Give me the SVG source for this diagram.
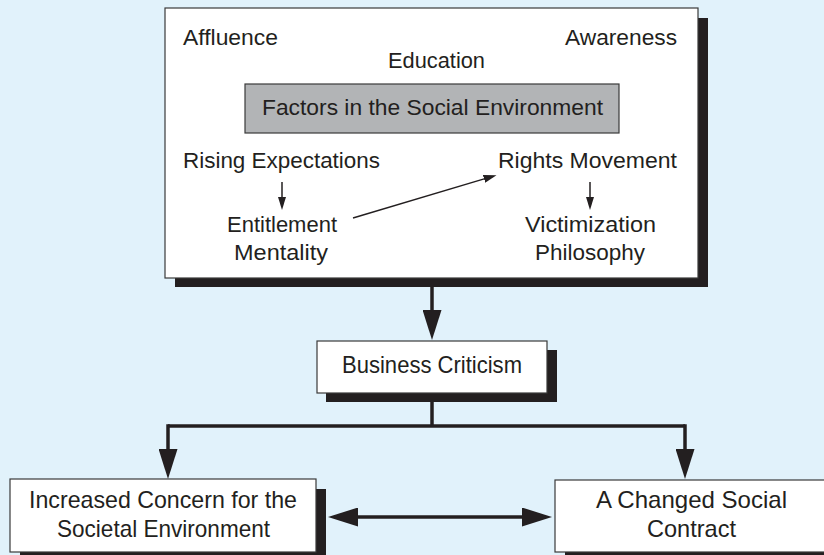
<svg xmlns="http://www.w3.org/2000/svg" width="824" height="555" viewBox="0 0 824 555">
<style>
.t{font-family:"Liberation Sans",Arial,sans-serif;font-size:22px;fill:#231f20;}
.c{font-family:"Liberation Sans Narrow","Liberation Sans",Arial,sans-serif;font-size:24px;fill:#231f20;}
.box{fill:#ffffff;stroke:#3a3a3a;stroke-width:1.2;}
.shadow{fill:#231f20;}
.gray{fill:#b2b4b6;stroke:#3a3a3a;stroke-width:1.2;}
.main{fill:none;stroke:#231f20;stroke-width:3.5;}
.thin{fill:none;stroke:#231f20;stroke-width:1.5;}
</style>
<defs>
<marker id="big" viewBox="0 0 30 19" refX="1" refY="9.5" markerWidth="30" markerHeight="19" markerUnits="userSpaceOnUse" orient="auto-start-reverse">
<path d="M0,0 L30,9.5 L0,19 Z" fill="#231f20"/>
</marker>
<marker id="small" viewBox="0 0 13 8" refX="1" refY="4" markerWidth="13" markerHeight="8" markerUnits="userSpaceOnUse" orient="auto">
<path d="M0,0 L13,4 L0,8 Z" fill="#231f20"/>
</marker>
</defs>
<rect x="0" y="0" width="824" height="555" fill="#e1f2fb"/>

<g id="connectors">
<line class="main" x1="432" y1="287" x2="432" y2="311" marker-end="url(#big)"/>
<line class="main" x1="432" y1="402" x2="432" y2="426"/>
<polyline class="main" points="168,426 685,426"/>
<line class="main" x1="168" y1="424.25" x2="168" y2="450" marker-end="url(#big)"/>
<line class="main" x1="685" y1="424.25" x2="685" y2="450" marker-end="url(#big)"/>
<line class="main" x1="357" y1="517" x2="523" y2="517" marker-start="url(#big)" marker-end="url(#big)"/>
</g>

<g id="social-environment">
<rect class="shadow" x="175" y="18" width="533" height="269"/>
<rect class="box" x="165" y="8" width="533" height="270"/>
<text class="t" x="183" y="45" textLength="95" lengthAdjust="spacingAndGlyphs">Affluence</text>
<text class="t" x="436.5" y="68" text-anchor="middle" textLength="97" lengthAdjust="spacingAndGlyphs">Education</text>
<text class="t" x="677" y="45" text-anchor="end" textLength="112" lengthAdjust="spacingAndGlyphs">Awareness</text>
<g id="factors">
<rect class="gray" x="245" y="84" width="374" height="49"/>
<text class="t" x="432.5" y="115" text-anchor="middle" textLength="341" lengthAdjust="spacingAndGlyphs">Factors in the Social Environment</text>
</g>
<text class="t" x="183" y="168" textLength="197" lengthAdjust="spacingAndGlyphs">Rising Expectations</text>
<text class="t" x="498" y="168" textLength="179" lengthAdjust="spacingAndGlyphs">Rights Movement</text>
<text class="t" x="282" y="232" text-anchor="middle" textLength="110" lengthAdjust="spacingAndGlyphs">Entitlement</text>
<text class="t" x="281" y="260" text-anchor="middle" textLength="94" lengthAdjust="spacingAndGlyphs">Mentality</text>
<text class="t" x="590.5" y="232" text-anchor="middle" textLength="131" lengthAdjust="spacingAndGlyphs">Victimization</text>
<text class="t" x="590" y="260" text-anchor="middle" textLength="110" lengthAdjust="spacingAndGlyphs">Philosophy</text>
<g id="inner-connectors">
<line class="thin" x1="282" y1="182" x2="282" y2="198" marker-end="url(#small)"/>
<line class="thin" x1="590" y1="182" x2="590" y2="198" marker-end="url(#small)"/>
<line class="thin" x1="353" y1="218" x2="485" y2="178.6" marker-end="url(#small)"/>
</g>
</g>

<g id="business-criticism">
<rect class="shadow" x="326" y="350" width="231" height="52"/>
<rect class="box" x="317" y="341" width="230" height="52"/>
<text class="c" x="432" y="373" text-anchor="middle" textLength="180" lengthAdjust="spacingAndGlyphs">Business Criticism</text>
</g>

<g id="societal-concern">
<rect class="shadow" x="20" y="489" width="306" height="73"/>
<rect class="box" x="10" y="479" width="306" height="73"/>
<text class="c" x="163" y="508" text-anchor="middle" textLength="268" lengthAdjust="spacingAndGlyphs">Increased Concern for the</text>
<text class="c" x="163.5" y="537" text-anchor="middle" textLength="213" lengthAdjust="spacingAndGlyphs">Societal Environment</text>
</g>

<g id="social-contract">
<rect class="shadow" x="565" y="490" width="280" height="72"/>
<rect class="box" x="555" y="480" width="280" height="72"/>
<text class="c" x="691.5" y="508" text-anchor="middle" textLength="191" lengthAdjust="spacingAndGlyphs">A Changed Social</text>
<text class="c" x="691.5" y="537" text-anchor="middle" textLength="89" lengthAdjust="spacingAndGlyphs">Contract</text>
</g>
</svg>
